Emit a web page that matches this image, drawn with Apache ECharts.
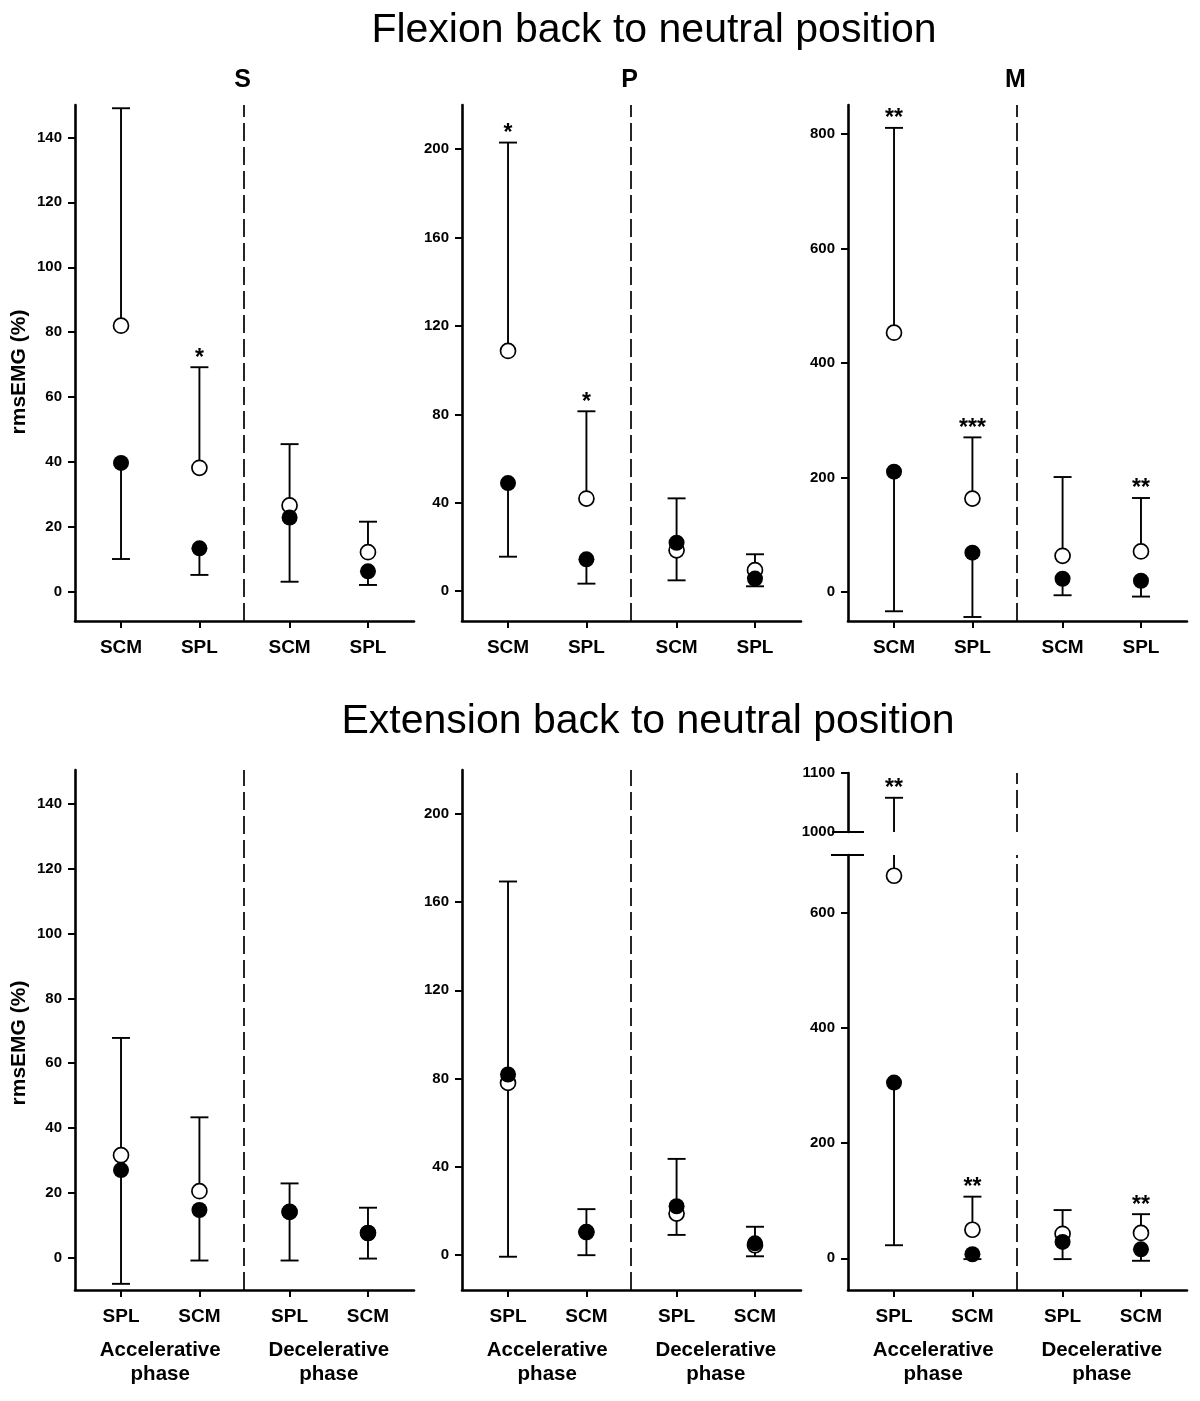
<!DOCTYPE html>
<html>
<head>
<meta charset="utf-8">
<script src="https://cdn.jsdelivr.net/npm/echarts@6/dist/echarts.min.js"></script>
<style>
html, body { margin: 0; padding: 0; background: #fff; }
#c { width: 1200px; height: 1401px; }
</style>
</head>
<body>
<div id="c"></div>
<script>
// ---------------- TEXT ----------------
const mainTitles = ['Flexion back to neutral position', 'Extension back to neutral position'];
const panelLetters = ['S', 'P', 'M'];
const yAxisTitle = 'rmsEMG (%)';
const flexionCategories = ['SCM', 'SPL', 'SCM', 'SPL'];
const extensionCategories = ['SPL', 'SCM', 'SPL', 'SCM'];
const phaseLabels = ['Accelerative\nphase', 'Decelerative\nphase'];

// ---------------- TICK LABELS ----------------
const ticksS = [0, 20, 40, 60, 80, 100, 120, 140];
const ticksP = [0, 40, 80, 120, 160, 200];
const ticksM = [0, 200, 400, 600, 800];
const ticksMExtLow = [0, 200, 400, 600];
const ticksMExtHigh = [1000, 1100];

// ---------------- DATA: Flexion back to neutral ----------------
// open circle value, end of its (upward) bar; filled circle value, end of its (downward) bar
const flexS_open = [82, 38.2, 26.6, 12.2];
const flexS_openEnd = [149, 69.2, 45.5, 21.6];
const flexS_filled = [39.7, 13.4, 22.9, 6.3];
const flexS_filledEnd = [10.1, 5.2, 3.1, 2.1];
const flexS_stars = ['', '*', '', ''];

const flexP_open = [108.7, 41.9, 18.5, 9.5];
const flexP_openEnd = [203, 81.4, 42, 16.7];
const flexP_filled = [48.9, 14.4, 21.9, 5.7];
const flexP_filledEnd = [15.6, 3.4, 4.9, 2.2];
const flexP_stars = ['*', '*', '', ''];

const flexM_open = [453, 163, 63, 70.6];
const flexM_openEnd = [811, 270, 200.7, 164];
const flexM_filled = [210, 68.5, 22.8, 19.4];
const flexM_filledEnd = [-34, -44, -6, -8.3];
const flexM_stars = ['**', '***', '', '**'];

// ---------------- DATA: Extension back to neutral ----------------
const extS_open = [31.6, 20.5, 14.1, 7.6];
const extS_openEnd = [67.8, 43.3, 22.9, 15.4];
const extS_filled = [27, 14.7, 14.1, 7.6];
const extS_filledEnd = [-8.1, -0.9, -0.9, -0.3];
const extS_stars = ['', '', '', ''];

const extP_open = [78, 10.3, 18.7, 4.3];
const extP_openEnd = [169.4, 20.7, 43.5, 12.7];
const extP_filled = [81.8, 10.3, 22, 5.2];
const extP_filledEnd = [-0.9, -0.2, 9, -0.7];
const extP_stars = ['', '', '', ''];

const extM_open = [664, 49.6, 42.5, 44];
const extM_openEnd = [1058, 107, 83.7, 76.6];
const extM_filled = [305, 7, 28.4, 15.6];
const extM_filledEnd = [22.7, -1.4, -1.4, -4.3];
const extM_stars = ['**', '**', '', '**'];

// ---------------- LAYOUT ----------------
const FONT = '"Liberation Sans", Arial, Helvetica, sans-serif';
const COL_LEFT = [75, 462, 848];
const GRID_W = 339;
const X_MIN = -0.587, X_MAX = 3.737;
const GROUP_GAP = 0.15;
const xPos = [0, 1, 2, 3].map(i => i + (i >= 2 ? GROUP_GAP : 0));
const DIVIDER_X = (xPos[1] + xPos[2]) / 2;
const phasePos = [(xPos[0] + xPos[1]) / 2, (xPos[2] + xPos[3]) / 2];
const CAP = 9;
const TITLE_POS = [[654, 31], [648, 722]];
const NAME_PAD = [18, 26];

function nearestIdx(arr, v) {
  let b = 0;
  for (let i = 1; i < arr.length; i++) if (Math.abs(arr[i] - v) < Math.abs(arr[b] - v)) b = i;
  return b;
}
function pack(open, openEnd, filled, filledEnd, stars) {
  return { open, openEnd, filled, filledEnd, stars };
}

const panels = [
  { row: 0, col: 0, cats: flexionCategories, d: pack(flexS_open, flexS_openEnd, flexS_filled, flexS_filledEnd, flexS_stars), yName: true,
    segs: [{ top: 105, h: 516, min: -9, max: 150, ticks: ticksS, main: true }] },
  { row: 0, col: 1, cats: flexionCategories, d: pack(flexP_open, flexP_openEnd, flexP_filled, flexP_filledEnd, flexP_stars),
    segs: [{ top: 105, h: 516, min: -13.5, max: 220, ticks: ticksP, main: true }] },
  { row: 0, col: 2, cats: flexionCategories, d: pack(flexM_open, flexM_openEnd, flexM_filled, flexM_filledEnd, flexM_stars),
    segs: [{ top: 105, h: 516, min: -51, max: 851, ticks: ticksM, main: true }] },
  { row: 1, col: 0, cats: extensionCategories, d: pack(extS_open, extS_openEnd, extS_filled, extS_filledEnd, extS_stars), yName: true,
    segs: [{ top: 770, h: 520, min: -10, max: 150.5, ticks: ticksS, main: true }] },
  { row: 1, col: 1, cats: extensionCategories, d: pack(extP_open, extP_openEnd, extP_filled, extP_filledEnd, extP_stars),
    segs: [{ top: 770, h: 520, min: -16, max: 220, ticks: ticksP, main: true }] },
  { row: 1, col: 2, cats: extensionCategories, d: pack(extM_open, extM_openEnd, extM_filled, extM_filledEnd, extM_stars), broken: true,
    segs: [{ top: 855, h: 435, min: -55, max: 700, ticks: ticksMExtLow, main: true, low: true },
           { top: 773, h: 59, min: 1000, max: 1100, ticks: ticksMExtHigh, main: false, high: true }] }
];

const grids = [], xAxes = [], yAxes = [], series = [];
const refs = [];

panels.forEach(panel => {
  panel.segs.forEach(seg => {
    const gi = grids.length;
    grids.push({ left: COL_LEFT[panel.col], top: seg.top, width: GRID_W, height: seg.h, outerBoundsMode: 'none', containLabel: false });
    const xi = xAxes.length;
    xAxes.push({
      gridIndex: gi, type: 'value', min: X_MIN, max: X_MAX, show: seg.main,
      splitLine: { show: false },
      axisLine: { show: true, onZero: false, lineStyle: { color: '#000', width: 2.6 } },
      axisTick: { show: true, customValues: xPos, length: 7, lineStyle: { color: '#000', width: 2 } },
      axisLabel: { show: true, customValues: xPos, margin: 17, color: '#000', fontFamily: FONT, fontWeight: 'bold', fontSize: 19,
        formatter: v => panel.cats[nearestIdx(xPos, v)] }
    });
    if (seg.main && panel.row === 1) {
      xAxes.push({
        gridIndex: gi, type: 'value', min: X_MIN, max: X_MAX, position: 'bottom',
        splitLine: { show: false }, axisLine: { show: false }, axisTick: { show: false },
        axisLabel: { show: true, customValues: phasePos, margin: 48, color: '#000', fontFamily: FONT, fontWeight: 'bold', fontSize: 20.5, lineHeight: 24,
          formatter: v => phaseLabels[nearestIdx(phasePos, v)] }
      });
    }
    const yi = yAxes.length;
    yAxes.push({
      gridIndex: gi, type: 'value', min: seg.min, max: seg.max,
      splitLine: { show: false },
      axisLine: { show: true, onZero: false, lineStyle: { color: '#000', width: 2.6 } },
      axisTick: { show: true, customValues: seg.ticks, length: 7, lineStyle: { color: '#000', width: 2 } },
      axisLabel: { show: true, customValues: seg.ticks, margin: 13, color: '#000', fontFamily: FONT, fontWeight: 'bold', fontSize: 15,
        formatter: v => String(Math.round(v)) },
      name: (panel.yName ? yAxisTitle : ''), nameLocation: 'middle', nameGap: 45, nameRotate: 90,
      nameTextStyle: { color: '#000', fontFamily: FONT, fontWeight: 'bold', fontSize: 21, padding: [0, NAME_PAD[panel.row], 0, 0] }
    });
    refs.push({ panel, seg, gi, xi, yi });

    const d = panel.d;
    const items = [];
    for (let i = 0; i < 4; i++) {
      items.push({ x: xPos[i], v: d.open[i], e: d.openEnd[i], star: d.stars[i] });
      items.push({ x: xPos[i], v: d.filled[i], e: d.filledEnd[i], star: '' });
    }
    const lo = seg.min, hi = seg.max;
    series.push({
      type: 'custom', xAxisIndex: xi, yAxisIndex: yi, z: 2, silent: true,
      data: items.map(it => [it.x, it.v, it.e]),
      encode: { x: 0, y: [1, 2] },
      renderItem: (params, api) => {
        const it = items[params.dataIndex];
        if ((it.v > hi && it.e > hi) || (it.v < lo && it.e < lo)) return null;
        const clamp = t => Math.max(lo, Math.min(hi, t));
        const p0 = api.coord([it.x, clamp(it.v)]);
        const p1 = api.coord([it.x, clamp(it.e)]);
        const children = [{ type: 'line', shape: { x1: p0[0], y1: p0[1], x2: p1[0], y2: p1[1] }, style: { stroke: '#000', lineWidth: 1.9 } }];
        if (it.e >= lo && it.e <= hi) {
          children.push({ type: 'line', shape: { x1: p1[0] - CAP, y1: p1[1], x2: p1[0] + CAP, y2: p1[1] }, style: { stroke: '#000', lineWidth: 1.9 } });
          if (it.star) {
            children.push({ type: 'text', x: p1[0], y: p1[1] - 9,
              style: { text: it.star, fill: '#000', font: 'bold 23px ' + FONT, align: 'center', verticalAlign: 'middle', textAlign: 'center', textVerticalAlign: 'middle' } });
          }
        }
        return { type: 'group', children };
      }
    });
    const inRange = v => v >= lo && v <= hi;
    series.push({
      type: 'scatter', xAxisIndex: xi, yAxisIndex: yi, z: 3, silent: true,
      symbol: 'circle', symbolSize: 15,
      itemStyle: { color: '#fff', borderColor: '#000', borderWidth: 1.7, opacity: 1 },
      data: d.open.map((v, i) => [xPos[i], v]).filter(p => inRange(p[1])),
      markLine: {
        silent: true, symbol: ['none', 'none'], label: { show: false },
        lineStyle: { color: '#000', width: 1.7, type: [18, 6] },
        data: [{ xAxis: DIVIDER_X }]
      }
    });
    series.push({
      type: 'scatter', xAxisIndex: xi, yAxisIndex: yi, z: 4, silent: true,
      symbol: 'circle', symbolSize: 16,
      itemStyle: { color: '#000', opacity: 1 },
      data: d.filled.map((v, i) => [xPos[i], v]).filter(p => inRange(p[1]))
    });
  });
});

const chart = echarts.init(document.getElementById('c'), null, { renderer: 'canvas', width: 1200, height: 1401 });
chart.setOption({
  backgroundColor: '#fff',
  animation: false,
  grid: grids, xAxis: xAxes, yAxis: yAxes, series: series
});

// decorations derived from the axes
const graphics = [];
[0, 1].forEach(row => {
  graphics.push({ type: 'text', x: TITLE_POS[row][0], y: TITLE_POS[row][1],
    style: { text: mainTitles[row], fill: '#000', font: 'normal 41px ' + FONT, align: 'center', verticalAlign: 'middle', textAlign: 'center', textVerticalAlign: 'middle' } });
  if (row === 0) {
    const rs = refs.filter(r => r.panel.row === row && r.seg.main);
    rs.forEach((r, k) => {
      const px = chart.convertToPixel({ xAxisIndex: r.xi }, DIVIDER_X);
      graphics.push({ type: 'text', x: px - 2, y: 80,
        style: { text: panelLetters[k], fill: '#000', font: 'bold 25px ' + FONT, align: 'center', verticalAlign: 'middle', textAlign: 'center', textVerticalAlign: 'middle' } });
    });
  }
});
// axis-break markers
refs.filter(r => r.panel.broken).forEach(r => {
  const ax = chart.convertToPixel({ xAxisIndex: r.xi }, X_MIN);
  if (r.seg.high) {
    const y = chart.convertToPixel({ yAxisIndex: r.yi }, r.seg.min);
    graphics.push({ type: 'line', shape: { x1: ax - 16, y1: y, x2: ax + 16, y2: y }, style: { stroke: '#000', lineWidth: 2 } });
  }
  if (r.seg.low) {
    const y = chart.convertToPixel({ yAxisIndex: r.yi }, r.seg.max);
    graphics.push({ type: 'line', shape: { x1: ax - 17, y1: y, x2: ax + 16, y2: y }, style: { stroke: '#000', lineWidth: 2 } });
  }
});
chart.setOption({ graphic: graphics });
</script>
</body>
</html>
